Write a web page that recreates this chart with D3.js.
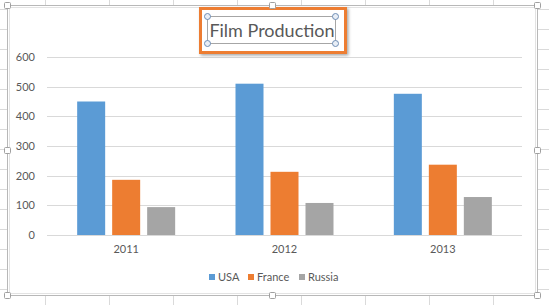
<!DOCTYPE html>
<html><head><meta charset="utf-8">
<script src="https://cdn.jsdelivr.net/npm/d3@7"></script>
<style>html,body{margin:0;padding:0;background:#fff;overflow:hidden}svg{display:block}</style>
</head><body><svg id="c" width="549" height="305"></svg>
<script>
const categories = ["2011", "2012", "2013"];
const seriesNames = ["USA", "France", "Russia"];
const usa = [450, 510, 476];
const france = [186, 213, 237];
const russia = [94, 108, 128];
const yTicks = [0, 100, 200, 300, 400, 500, 600];
const colors = ["#5b9bd5", "#ed7d31", "#a5a5a5"];
const title = "Film Production";

(function () {
const values = [usa, france, russia];
const svg = d3.select("#c");
const font = "Lato, 'Open Sans', sans-serif";

// spreadsheet cell gridlines behind the chart
const bg = svg.append("g");
d3.range(9, 305, 20).forEach(yy => bg.append("line").attr("x1", 0).attr("x2", 549).attr("y1", yy + 0.5).attr("y2", yy + 0.5).attr("stroke", "#dadada"));
d3.range(45, 549, 64).forEach(xx => bg.append("line").attr("x1", xx + 0.5).attr("x2", xx + 0.5).attr("y1", 0).attr("y2", 305).attr("stroke", "#dadada"));

// chart area
svg.append("rect").attr("x", 7.5).attr("y", 5.5).attr("width", 530).attr("height", 290)
  .attr("fill", "#fff").attr("stroke", "#b8b8b8");
svg.append("rect").attr("x", 9.5).attr("y", 7.5).attr("width", 526).attr("height", 286)
  .attr("fill", "none").attr("stroke", "#e3e3e3");

const pl = 47, pr = 522, pt = 57, pb = 235;
const x = d3.scaleBand().domain(categories).range([pl, pr]).paddingInner(0).paddingOuter(0);
const inner = d3.scaleBand().domain(seriesNames).range([0, 98]).paddingInner(0.2);
const y = d3.scaleLinear().domain([0, 600]).range([pb, pt]);

// gridlines
svg.append("g").selectAll("line").data(yTicks).join("line")
  .attr("x1", pl).attr("x2", pr)
  .attr("y1", d => Math.round(y(d)) + 0.5).attr("y2", d => Math.round(y(d)) + 0.5)
  .attr("stroke", "#d9d9d9");

// y labels
svg.append("g").selectAll("text").data(yTicks).join("text")
  .attr("x", 35).attr("y", d => y(d)).attr("dy", "0.35em")
  .attr("text-anchor", "end").attr("font-family", font).attr("font-size", 11).attr("fill", "#595959")
  .text(d => d);

// bars
const groups = svg.append("g").selectAll("g").data(categories).join("g")
  .attr("transform", c => `translate(${x(c) + (x.bandwidth() - 98) / 2},0)`);
groups.selectAll("rect").data((c, i) => seriesNames.map((s, j) => ({s, v: values[j][i], j})))
  .join("rect")
  .attr("x", d => inner(d.s)).attr("width", inner.bandwidth())
  .attr("y", d => y(d.v)).attr("height", d => y(0) - y(d.v))
  .attr("fill", d => colors[d.j]);

// x labels
svg.append("g").selectAll("text").data(categories).join("text")
  .attr("x", c => x(c) + x.bandwidth() / 2).attr("y", 253)
  .attr("text-anchor", "middle").attr("font-family", font).attr("font-size", 11).attr("fill", "#595959")
  .text(c => c);

// legend
const legX = [209, 248, 299];
const leg = svg.append("g").selectAll("g").data(seriesNames).join("g")
  .attr("transform", (d, i) => `translate(${legX[i]},274)`);
leg.append("rect").attr("width", 6).attr("height", 6).attr("fill", (d, i) => colors[i]);
leg.append("text").attr("x", 9).attr("y", 3).attr("dy", "0.35em")
  .attr("font-family", font).attr("font-size", 11).attr("fill", "#595959").text(d => d);

// title selection box
const defs = svg.append("defs");
const f = defs.append("filter").attr("id", "sh").attr("x", "-20%").attr("y", "-40%").attr("width", "140%").attr("height", "180%");
f.append("feDropShadow").attr("dx", 1.5).attr("dy", 1.5).attr("stdDeviation", 1.5).attr("flood-color", "#000").attr("flood-opacity", 0.35);
svg.append("rect").attr("x", 200.5).attr("y", 8.5).attr("width", 145).attr("height", 44)
  .attr("fill", "#fff").attr("stroke", "#ed7d31").attr("stroke-width", 3).attr("filter", "url(#sh)");
svg.append("rect").attr("x", 207.5).attr("y", 16.5).attr("width", 128).attr("height", 27)
  .attr("fill", "none").attr("stroke", "#a6a6a6");
svg.append("text").attr("x", 272).attr("y", 31).attr("dy", "0.35em").attr("text-anchor", "middle")
  .attr("font-family", font).attr("font-size", 18).attr("fill", "#595959").text(title);
[[207.5,16.5],[335.5,16.5],[207.5,43.5],[335.5,43.5]].forEach(([cx, cy]) =>
  svg.append("circle").attr("cx", cx).attr("cy", cy).attr("r", 3).attr("fill", "#e8eef6").attr("stroke", "#6d8db5"));

// chart handles
[[7.5,5.5],[272.5,5.5],[537.5,5.5],[7.5,150.5],[537.5,150.5],[7.5,295.5],[272.5,295.5],[537.5,295.5]].forEach(([hx, hy]) =>
  svg.append("rect").attr("x", hx - 3).attr("y", hy - 3).attr("width", 6).attr("height", 6).attr("rx", 1)
    .attr("fill", "#fff").attr("stroke", "#a0a0a0"));
})();
</script></body></html>
